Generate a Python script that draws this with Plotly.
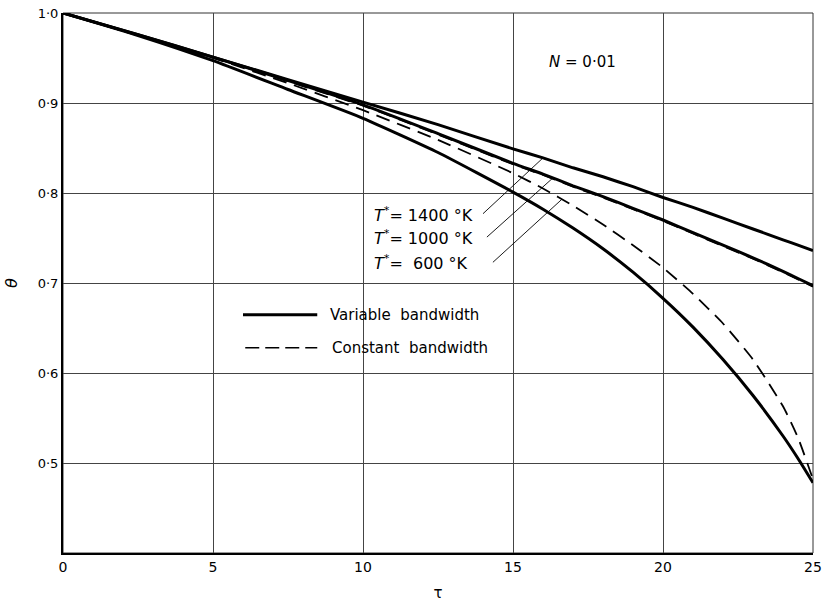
import numpy as np
import plotly.graph_objects as go

# ---- data ----
tau = [0, 2.5, 5, 7.5, 10, 12.5, 15, 16, 17, 18, 19, 20, 21, 22, 23, 24, 24.5, 25]
var_1400 = [1.000, 0.976, 0.951, 0.926, 0.901, 0.876, 0.849, 0.839, 0.828, 0.818, 0.807, 0.795, 0.784, 0.772, 0.760, 0.748, 0.742, 0.736]
var_1000 = [1.000, 0.976, 0.951, 0.925, 0.898, 0.866, 0.833, 0.821, 0.808, 0.796, 0.783, 0.770, 0.756, 0.742, 0.728, 0.713, 0.705, 0.697]
const_1000 = [1.000, 0.976, 0.951, 0.924, 0.897, 0.865, 0.832, 0.820, 0.807, 0.795, 0.782, 0.769, 0.755, 0.741, 0.727, 0.712, 0.704, 0.696]
var_600 = [1.000, 0.975, 0.947, 0.915, 0.883, 0.845, 0.801, 0.782, 0.761, 0.738, 0.712, 0.683, 0.651, 0.615, 0.575, 0.530, 0.505, 0.478]
const_600 = [1.000, 0.975, 0.950, 0.922, 0.892, 0.859, 0.822, 0.805, 0.786, 0.765, 0.742, 0.717, 0.688, 0.655, 0.615, 0.563, 0.528, 0.482]

x_ticks = [0, 5, 10, 15, 20, 25]
x_ticktext = ["0", "5", "10", "15", "20", "25"]
y_ticks = [0.5, 0.6, 0.7, 0.8, 0.9, 1.0]
y_ticktext = ["0·5", "0·6", "0·7", "0·8", "0·9", "1·0"]

labels = ["<i>T</i><sup>*</sup>= 1400 °K", "<i>T</i><sup>*</sup>= 1000 °K", "<i>T</i><sup>*</sup>=\u00a0\u00a0600 °K"]
label_curves = [var_1400, var_1000, const_600]
leader_tau_end = [16.0, 16.33, 16.63]
label_pos = [(10.3, 0.776), (10.3, 0.751), (10.3, 0.723)]
leader_start = [(14.0, 0.777), (14.13, 0.751), (14.33, 0.723)]

FONT = "DejaVu Sans"

fig = go.Figure()
solid = dict(color="black", width=3, shape="spline", smoothing=0.5)
dashed = dict(color="black", width=1.8, dash="14px,8px", shape="spline", smoothing=0.5)

fig.add_trace(go.Scatter(x=tau, y=var_1400, mode="lines", line=solid, name="Variable bandwidth, T*=1400 K", showlegend=False))
fig.add_trace(go.Scatter(x=tau, y=const_1000, mode="lines", line=dashed, name="Constant bandwidth, T*=1000 K", showlegend=False))
fig.add_trace(go.Scatter(x=tau, y=var_1000, mode="lines", line=solid, name="Variable bandwidth, T*=1000 K", showlegend=False))
fig.add_trace(go.Scatter(x=tau, y=const_600, mode="lines", line=dashed, name="Constant bandwidth, T*=600 K", showlegend=False))
fig.add_trace(go.Scatter(x=tau, y=var_600, mode="lines", line=solid, name="Variable bandwidth, T*=600 K", showlegend=False))

shapes = []
annotations = []

# leader lines from labels to curves
for (sx, sy), te, curve in zip(leader_start, leader_tau_end, label_curves):
    ye = float(np.interp(te, tau, curve))
    shapes.append(dict(type="line", xref="x", yref="y", x0=sx, y0=sy, x1=te, y1=ye,
                       line=dict(color="black", width=0.9)))
for (lx, ly), txt in zip(label_pos, labels):
    annotations.append(dict(x=lx, y=ly, xref="x", yref="y", text=txt, showarrow=False,
                            xanchor="left", yanchor="middle",
                            font=dict(family=FONT, size=16, color="black")))

annotations.append(dict(x=17.33, y=0.946, xref="x", yref="y", text="<i>N</i> = 0·01", showarrow=False,
                        font=dict(family=FONT, size=15, color="black")))

# manual legend
shapes.append(dict(type="line", xref="paper", yref="paper", x0=0.24, x1=0.339, y0=0.441, y1=0.441,
                   line=dict(color="black", width=3)))
shapes.append(dict(type="line", xref="paper", yref="paper", x0=0.243, x1=0.339, y0=0.380, y1=0.380,
                   line=dict(color="black", width=1.5, dash="14px,6px")))
annotations.append(dict(x=0.353, y=0.441, xref="paper", yref="paper", text="Variable\u00a0\u00a0bandwidth",
                        showarrow=False, xanchor="left", yanchor="middle",
                        font=dict(family=FONT, size=15, color="black")))
annotations.append(dict(x=0.356, y=0.380, xref="paper", yref="paper", text="Constant\u00a0\u00a0bandwidth",
                        showarrow=False, xanchor="left", yanchor="middle",
                        font=dict(family=FONT, size=15, color="black")))

# thin frame on top/right
shapes.append(dict(type="rect", xref="x domain", yref="y domain", x0=0, x1=1, y0=0, y1=1,
                   line=dict(color="#333", width=1), layer="below"))

fig.update_layout(
    width=825, height=604,
    margin=dict(l=63, r=12, t=13, b=51),
    paper_bgcolor="white", plot_bgcolor="white",
    font=dict(family=FONT, size=13, color="black"),
    shapes=shapes, annotations=annotations,
    showlegend=False,
)
fig.update_xaxes(range=[0, 25], tickvals=x_ticks, ticktext=x_ticktext, automargin=False,
                 showgrid=True, gridcolor="#444", gridwidth=1,
                 showline=True, linecolor="black", linewidth=2, zeroline=False,
                 ticks="", tickfont=dict(family=FONT, size=14),
                 title=dict(text="τ", standoff=14, font=dict(family=FONT, size=15)))
fig.update_yaxes(range=[0.4, 1.0], tickvals=y_ticks, ticktext=y_ticktext, automargin=False,
                 showgrid=True, gridcolor="#444", gridwidth=1,
                 showline=True, linecolor="black", linewidth=2, zeroline=False,
                 ticks="", tickfont=dict(family=FONT, size=13),
                 title=dict(text="<i>θ</i>", standoff=16, font=dict(family=FONT, size=16)))

fig.write_html("out.html")
